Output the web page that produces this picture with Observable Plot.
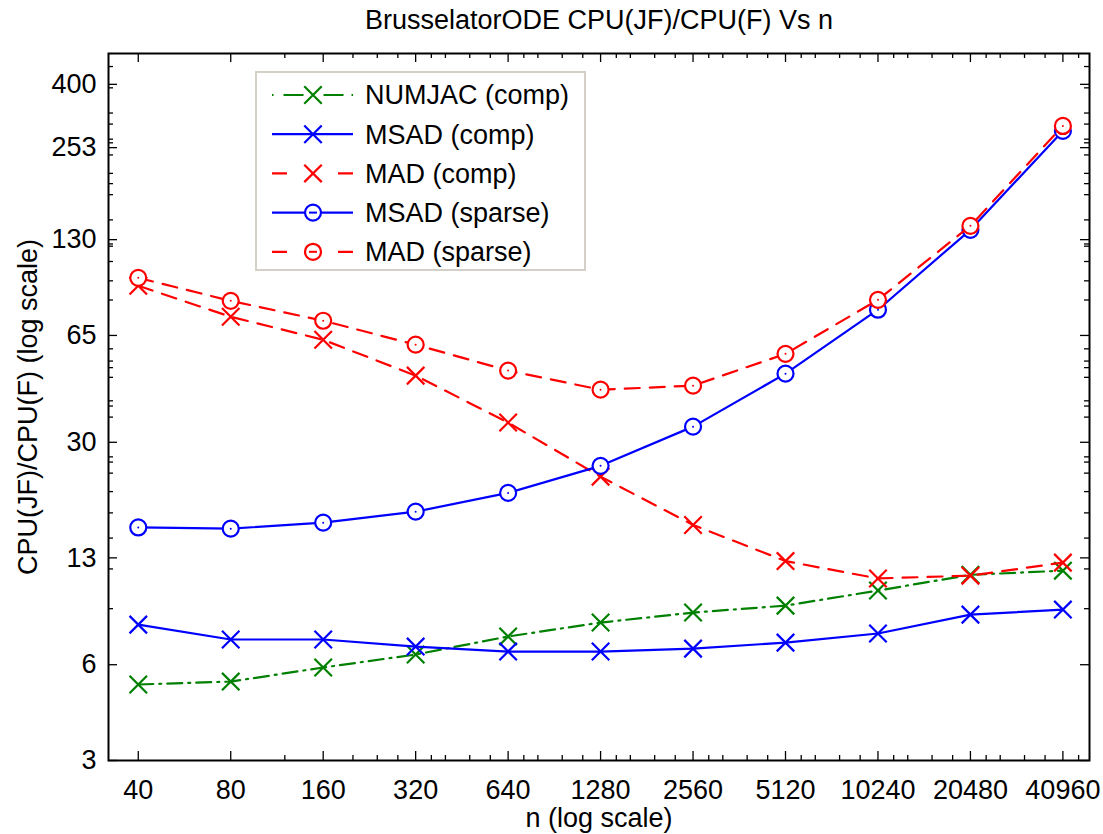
<!DOCTYPE html>
<html>
<head>
<meta charset="utf-8">
<script src="https://cdn.jsdelivr.net/npm/d3@7"></script>
<script src="https://cdn.jsdelivr.net/npm/@observablehq/plot@0.6"></script>
<style>
  body { margin: 0; background: #fff; }
  svg { display: block; }
</style>
</head>
<body>
<div id="chart"></div>
<script>
// Problem sizes n and CPU(JF)/CPU(F) ratios per method
const nValues = [40, 80, 160, 320, 640, 1280, 2560, 5120, 10240, 20480, 40960];
const numjacComp = [5.2, 5.31, 5.88, 6.46, 7.36, 8.14, 8.75, 9.2, 10.26, 11.5, 11.85];
const msadComp   = [8.02, 7.2, 7.2, 6.84, 6.6, 6.6, 6.74, 7.04, 7.52, 8.62, 8.94];
const madComp    = [93.1, 74.4, 63.0, 48.6, 34.6, 23.4, 16.5, 12.7, 11.2, 11.43, 12.56];
const msadSparse = [16.2, 16.06, 16.77, 18.16, 20.8, 25.3, 33.6, 49.3, 78.3, 139.6, 285.6];
const madSparse  = [98.6, 83.5, 72.3, 60.8, 50.4, 43.9, 45.2, 56.9, 84.1, 143.7, 296];

const seriesNames = ["NUMJAC (comp)", "MSAD (comp)", "MAD (comp)", "MSAD (sparse)", "MAD (sparse)"];
const seriesValues = [numjacComp, msadComp, madComp, msadSparse, madSparse];

// Axis ticks
const xMajorTicks = [40, 80, 160, 320, 640, 1280, 2560, 5120, 10240, 20480, 40960];
const xMinorTicks = [120, 200, 240, 280, 360, 400, 480, 560, 720, 800, 960, 1120,
  1440, 1600, 1920, 2240, 2880, 3200, 3840, 4480, 5760, 6400, 7680, 8960,
  11520, 12800, 15360, 17920, 23040, 25600, 30720, 35840, 46080];
const yMajorTicks = [3, 6, 13, 30, 65, 130, 253, 400];
const yMinorTicks = [9, 12, 15, 18, 21, 24, 26, 27, 36, 39, 40.5, 48, 51.5, 54, 59,
  84, 96.5, 111, 124, 126, 150, 180, 195, 210, 240, 262, 269, 300, 325, 390, 455];

const titleText = "BrusselatorODE CPU(JF)/CPU(F) Vs n";
const xLabel = "n (log scale)";
const yLabel = "CPU(JF)/CPU(F) (log scale)";

// Drawing styles per series
const styles = {
  "NUMJAC (comp)": {color: "#008000", dash: "15,6,2,6", symbol: "times", legendDash: "1.5,10,20,20,20,8,1.5,100"},
  "MSAD (comp)":   {color: "#0000ff", dash: null, symbol: "times", legendDash: null},
  "MAD (comp)":    {color: "#ff0000", dash: "15,10", symbol: "times", legendDash: "15,51,15,100"},
  "MSAD (sparse)": {color: "#0000ff", dash: null, symbol: "circle", legendDash: null},
  "MAD (sparse)":  {color: "#ff0000", dash: "15,10", symbol: "circle", legendDash: "15,51,15,100"}
};

const rows = seriesNames.flatMap((s, i) => nValues.map((n, j) => ({series: s, n, value: seriesValues[i][j]})));

const W = 1103, H = 834;
const mL = 108, mR = 14, mT = 53, mB = 74;
const pw = W - mL - mR, ph = H - mT - mB;
const FONT = "'Liberation Sans', Arial, Helvetica, sans-serif";
const FS = 27;
const majorLen = 9, minorLen = 5;

const seriesMarks = seriesNames.flatMap(s => {
  const st = styles[s];
  const data = rows.filter(r => r.series === s);
  const marks = [
    Plot.line(data, {x: "n", y: "value", stroke: st.color, strokeWidth: 2.2, strokeDasharray: st.dash ?? undefined})
  ];
  if (st.symbol === "times") {
    marks.push(Plot.dot(data, {x: "n", y: "value", symbol: "times", r: 8, stroke: st.color, strokeWidth: 2.2}));
  } else {
    marks.push(Plot.dot(data, {x: "n", y: "value", symbol: "circle", r: 8, stroke: st.color, strokeWidth: 2.2, fill: "white"}));
    marks.push(Plot.dot(data, {x: "n", y: "value", r: 1, fill: st.color, stroke: null}));
  }
  return marks;
});

const tickStyle = {stroke: "black", strokeWidth: 1.3};

const chart = Plot.plot({
  width: W,
  height: H,
  marginLeft: mL,
  marginRight: mR,
  marginTop: mT,
  marginBottom: mB,
  style: {fontFamily: FONT, fontSize: `${FS}px`, background: "white", color: "black"},
  x: {type: "log", domain: [32, 50000], axis: null},
  y: {type: "log", domain: [3, 500], axis: null},
  marks: [
    ...seriesMarks,
    // inward ticks on all four sides
    Plot.tickY(yMajorTicks, {y: d => d, insetRight: pw - majorLen, ...tickStyle}),
    Plot.tickY(yMajorTicks, {y: d => d, insetLeft: pw - majorLen, ...tickStyle}),
    Plot.tickY(yMinorTicks, {y: d => d, insetRight: pw - minorLen, ...tickStyle}),
    Plot.tickY(yMinorTicks, {y: d => d, insetLeft: pw - minorLen, ...tickStyle}),
    Plot.tickX(xMajorTicks, {x: d => d, insetTop: ph - majorLen, ...tickStyle}),
    Plot.tickX(xMajorTicks, {x: d => d, insetBottom: ph - majorLen, ...tickStyle}),
    Plot.tickX(xMinorTicks, {x: d => d, insetTop: ph - minorLen, ...tickStyle}),
    Plot.tickX(xMinorTicks, {x: d => d, insetBottom: ph - minorLen, ...tickStyle}),
    Plot.frame({stroke: "black", strokeWidth: 2}),
    // tick labels
    Plot.text(xMajorTicks, {x: d => d, frameAnchor: "bottom", dy: 30, text: d => String(d), fontSize: FS, lineAnchor: "middle", textAnchor: "middle", fill: "black"}),
    Plot.text(yMajorTicks, {y: d => d, frameAnchor: "left", dx: -12, text: d => String(d), fontSize: FS, lineAnchor: "middle", textAnchor: "end", fill: "black"}),
    // title and axis labels
    Plot.text([titleText], {frameAnchor: "top", dy: -33, text: d => d, fontSize: FS, lineAnchor: "middle", fill: "black"}),
    Plot.text([xLabel], {frameAnchor: "bottom", dy: 58, text: d => d, fontSize: FS, lineAnchor: "middle", fill: "black"}),
    Plot.text([yLabel], {frameAnchor: "left", dx: -80, rotate: -90, text: d => d, fontSize: FS, lineAnchor: "middle", textAnchor: "middle", fill: "black"})
  ]
});

// Legend box inside the plotting area
const svg = d3.select(chart);
const lg = svg.append("g").attr("class", "legend").attr("text-anchor", "start");
const box = {x: 256, y: 72, w: 329, h: 198};
lg.append("rect").attr("x", box.x).attr("y", box.y).attr("width", box.w).attr("height", box.h)
  .attr("fill", "white").attr("stroke", "#d4d0c8").attr("stroke-width", 2);
const rowY0 = box.y + 23, rowStep = 39.2;
const sx1 = box.x + 16, sx2 = box.x + 97, smid = box.x + 57, tx = box.x + 109;
seriesNames.forEach((s, i) => {
  const st = styles[s];
  const y = rowY0 + i * rowStep;
  lg.append("line").attr("x1", sx1).attr("x2", sx2).attr("y1", y).attr("y2", y)
    .attr("stroke", st.color).attr("stroke-width", 2.2)
    .attr("stroke-dasharray", st.legendDash);
  if (st.symbol === "times") {
    lg.append("path").attr("transform", `translate(${smid},${y})`)
      .attr("d", d3.symbol(d3.symbolTimes, Math.PI * 64)())
      .attr("fill", "none").attr("stroke", st.color).attr("stroke-width", 2.2);
  } else {
    lg.append("circle").attr("cx", smid).attr("cy", y).attr("r", 8)
      .attr("fill", "white").attr("stroke", st.color).attr("stroke-width", 2.2);
    lg.append("line").attr("x1", smid - 4).attr("x2", smid + 4).attr("y1", y).attr("y2", y)
      .attr("stroke", st.color).attr("stroke-width", 2);
  }
  lg.append("text").attr("x", tx).attr("y", y).attr("dy", "0.35em")
    .attr("text-anchor", "start")
    .attr("font-size", FS).attr("font-family", FONT).attr("fill", "black").text(s);
});

document.getElementById("chart").appendChild(chart);
</script>
</body>
</html>
